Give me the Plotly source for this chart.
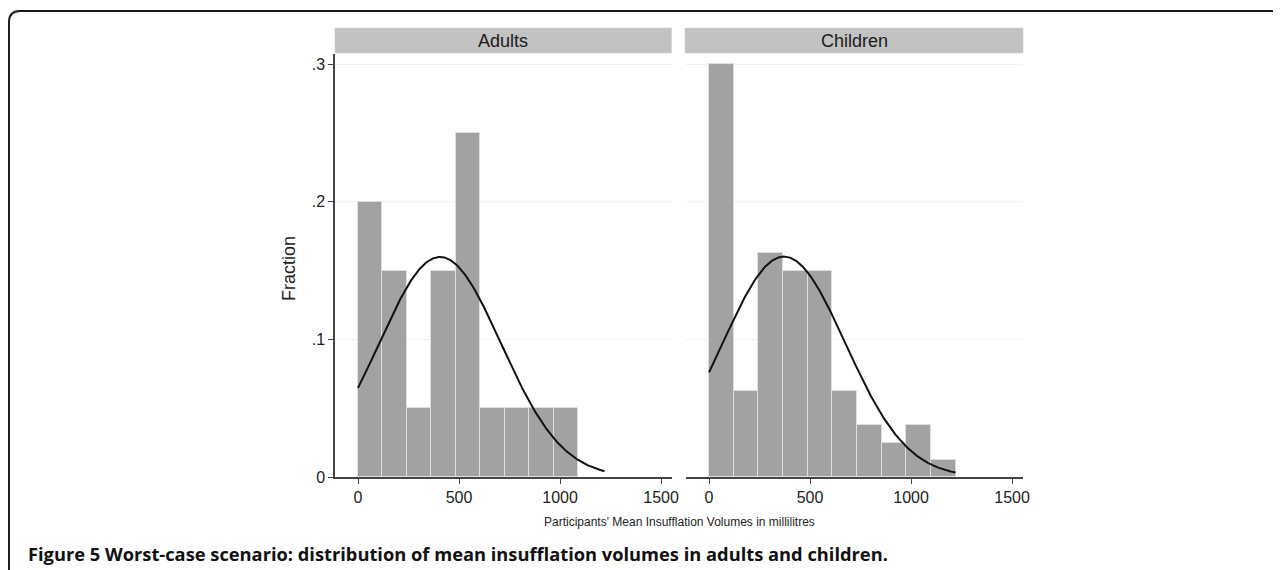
import numpy as np
import plotly.graph_objects as go

# ---------------- data ----------------
panels = ["Adults", "Children"]
adult_bin_width = 121.0
adult_fraction = [0.20, 0.15, 0.05, 0.15, 0.25, 0.05, 0.05, 0.05, 0.05]
child_bin_width = 122.0
child_fraction = [0.30, 0.0625, 0.1625, 0.15, 0.15, 0.0625, 0.0375, 0.025, 0.0375, 0.0125]
# fitted normal overlay parameters (mean, sd in ml)
adult_mean, adult_sd = 406.0, 302.0
child_mean, child_sd = 371.0, 304.0
curve_range = [0.0, 1220.0]
x_ticks = [0, 500, 1000, 1500]
y_ticks = [0, 0.1, 0.2, 0.3]
y_tick_labels = ["0", ".1", ".2", ".3"]
x_title = "Participants' Mean Insufflation Volumes in millilitres"
y_title = "Fraction"
caption_bold = "Figure 5"
caption_rest = "Worst-case scenario: distribution of mean insufflation volumes in adults and children."

# ---------------- layout geometry ----------------
# the page body has an 8px default margin; compensate so the figure lands on the window grid
OFF = 8
WIN_W, WIN_H = 1281, 570
PL, PR, PT, PB = 335, 1023, 54, 477  # plot area pixel box (window coords)


def px(xp):
    return (xp - PL) / (PR - PL)


def py(yp):
    return (PB - yp) / (PB - PT)


FONT = "Liberation Sans, Arial, sans-serif"
BAR_FILL = "#a2a2a2"
BAR_EDGE = "#dedede"

fig = go.Figure()


def add_panel(fractions, bw, mean, sd, xa, ya):
    n = len(fractions)
    centers = np.arange(n) * bw + bw / 2
    fig.add_trace(go.Bar(x=centers, y=fractions, width=[bw] * n,
                         marker=dict(color=BAR_FILL, line=dict(color=BAR_EDGE, width=1)),
                         xaxis=xa, yaxis=ya, showlegend=False, hoverinfo="skip"))
    xs = np.linspace(curve_range[0], curve_range[1], 300)
    ys = bw / (sd * np.sqrt(2 * np.pi)) * np.exp(-((xs - mean) ** 2) / (2 * sd ** 2))
    fig.add_trace(go.Scatter(x=xs, y=ys, mode="lines", line=dict(color="#111111", width=2),
                             xaxis=xa, yaxis=ya, showlegend=False, hoverinfo="skip"))


add_panel(adult_fraction, adult_bin_width, adult_mean, adult_sd, "x", "y")
add_panel(child_fraction, child_bin_width, child_mean, child_sd, "x2", "y2")

d1 = [0, px(672)]
d2 = [px(686), 1]
xr = [-114, 1554]
yr = [0, 0.3073]

xcommon = dict(range=xr, tickvals=x_ticks, ticktext=[str(v) for v in x_ticks],
               showline=True, linecolor="#444444", linewidth=1.5, ticks="outside",
               ticklen=5, tickcolor="#444444", tickwidth=1.2, showgrid=False, zeroline=False,
               tickfont=dict(family=FONT, size=16, color="#222222"), fixedrange=True)
ycommon = dict(range=yr, tickvals=y_ticks, showgrid=True, gridcolor="#efefef", gridwidth=1,
               zeroline=False, fixedrange=True)

fig.update_layout(
    width=WIN_W - OFF, height=WIN_H - OFF,
    margin=dict(l=PL - OFF, r=WIN_W - PR, t=PT - OFF, b=WIN_H - PB, pad=0),
    paper_bgcolor="white", plot_bgcolor="white",
    bargap=0,
    xaxis=dict(domain=d1, anchor="y", **xcommon),
    xaxis2=dict(domain=d2, anchor="y2", **xcommon),
    yaxis=dict(anchor="x", ticktext=y_tick_labels, showline=True, linecolor="#444444",
               linewidth=1.5, ticks="outside", ticklen=5, tickcolor="#444444", tickwidth=1.2,
               tickfont=dict(family=FONT, size=16, color="#222222"), **ycommon),
    yaxis2=dict(anchor="x2", showline=False, showticklabels=False, ticks="", **ycommon),
)

# strip headers
shapes = []
annotations = []
for name, (x0, x1) in zip(panels, [(335, 671.5), (685, 1023)]):
    shapes.append(dict(type="rect", xref="paper", yref="paper", x0=px(x0), x1=px(x1),
                       y0=py(53), y1=py(28), fillcolor="#c2c2c2", line=dict(width=0.6, color="#d0d0d0"),
                       layer="above"))
    annotations.append(dict(text=name, xref="paper", yref="paper", x=px((x0 + x1) / 2), y=py(40.5),
                            xanchor="center", yanchor="middle", showarrow=False,
                            font=dict(family=FONT, size=18, color="#1a1a1a")))

# axis titles
annotations.append(dict(text=x_title, xref="paper", yref="paper", x=px(679.5), y=py(522),
                        xanchor="center", yanchor="middle", showarrow=False,
                        font=dict(family=FONT, size=12, color="#222222")))
annotations.append(dict(text=y_title, xref="paper", yref="paper", x=px(289), y=py(269),
                        xanchor="center", yanchor="middle", showarrow=False, textangle=-90,
                        font=dict(family=FONT, size=18, color="#222222")))

# caption
annotations.append(dict(text="<b>" + caption_bold + "</b> <b>" + caption_rest + "</b>",
                        xref="paper", yref="paper", x=px(26), y=py(553),
                        xanchor="left", yanchor="middle", showarrow=False,
                        font=dict(family="Open Sans, Liberation Sans, Arial", size=18.3, color="#111111")))

# outer frame with rounded corner
fx, fy, r = 9, 11, 11
path = (f"M {px(fx)} {py(WIN_H + 5)} L {px(fx)} {py(fy + r)} "
        f"Q {px(fx)} {py(fy)} {px(fx + r)} {py(fy)} L {px(WIN_W + 5)} {py(fy)}")
shapes.append(dict(type="path", xref="paper", yref="paper", path=path,
                   line=dict(color="#1e1e1e", width=2)))

fig.update_layout(shapes=shapes, annotations=annotations)
fig.write_html("out.html")
